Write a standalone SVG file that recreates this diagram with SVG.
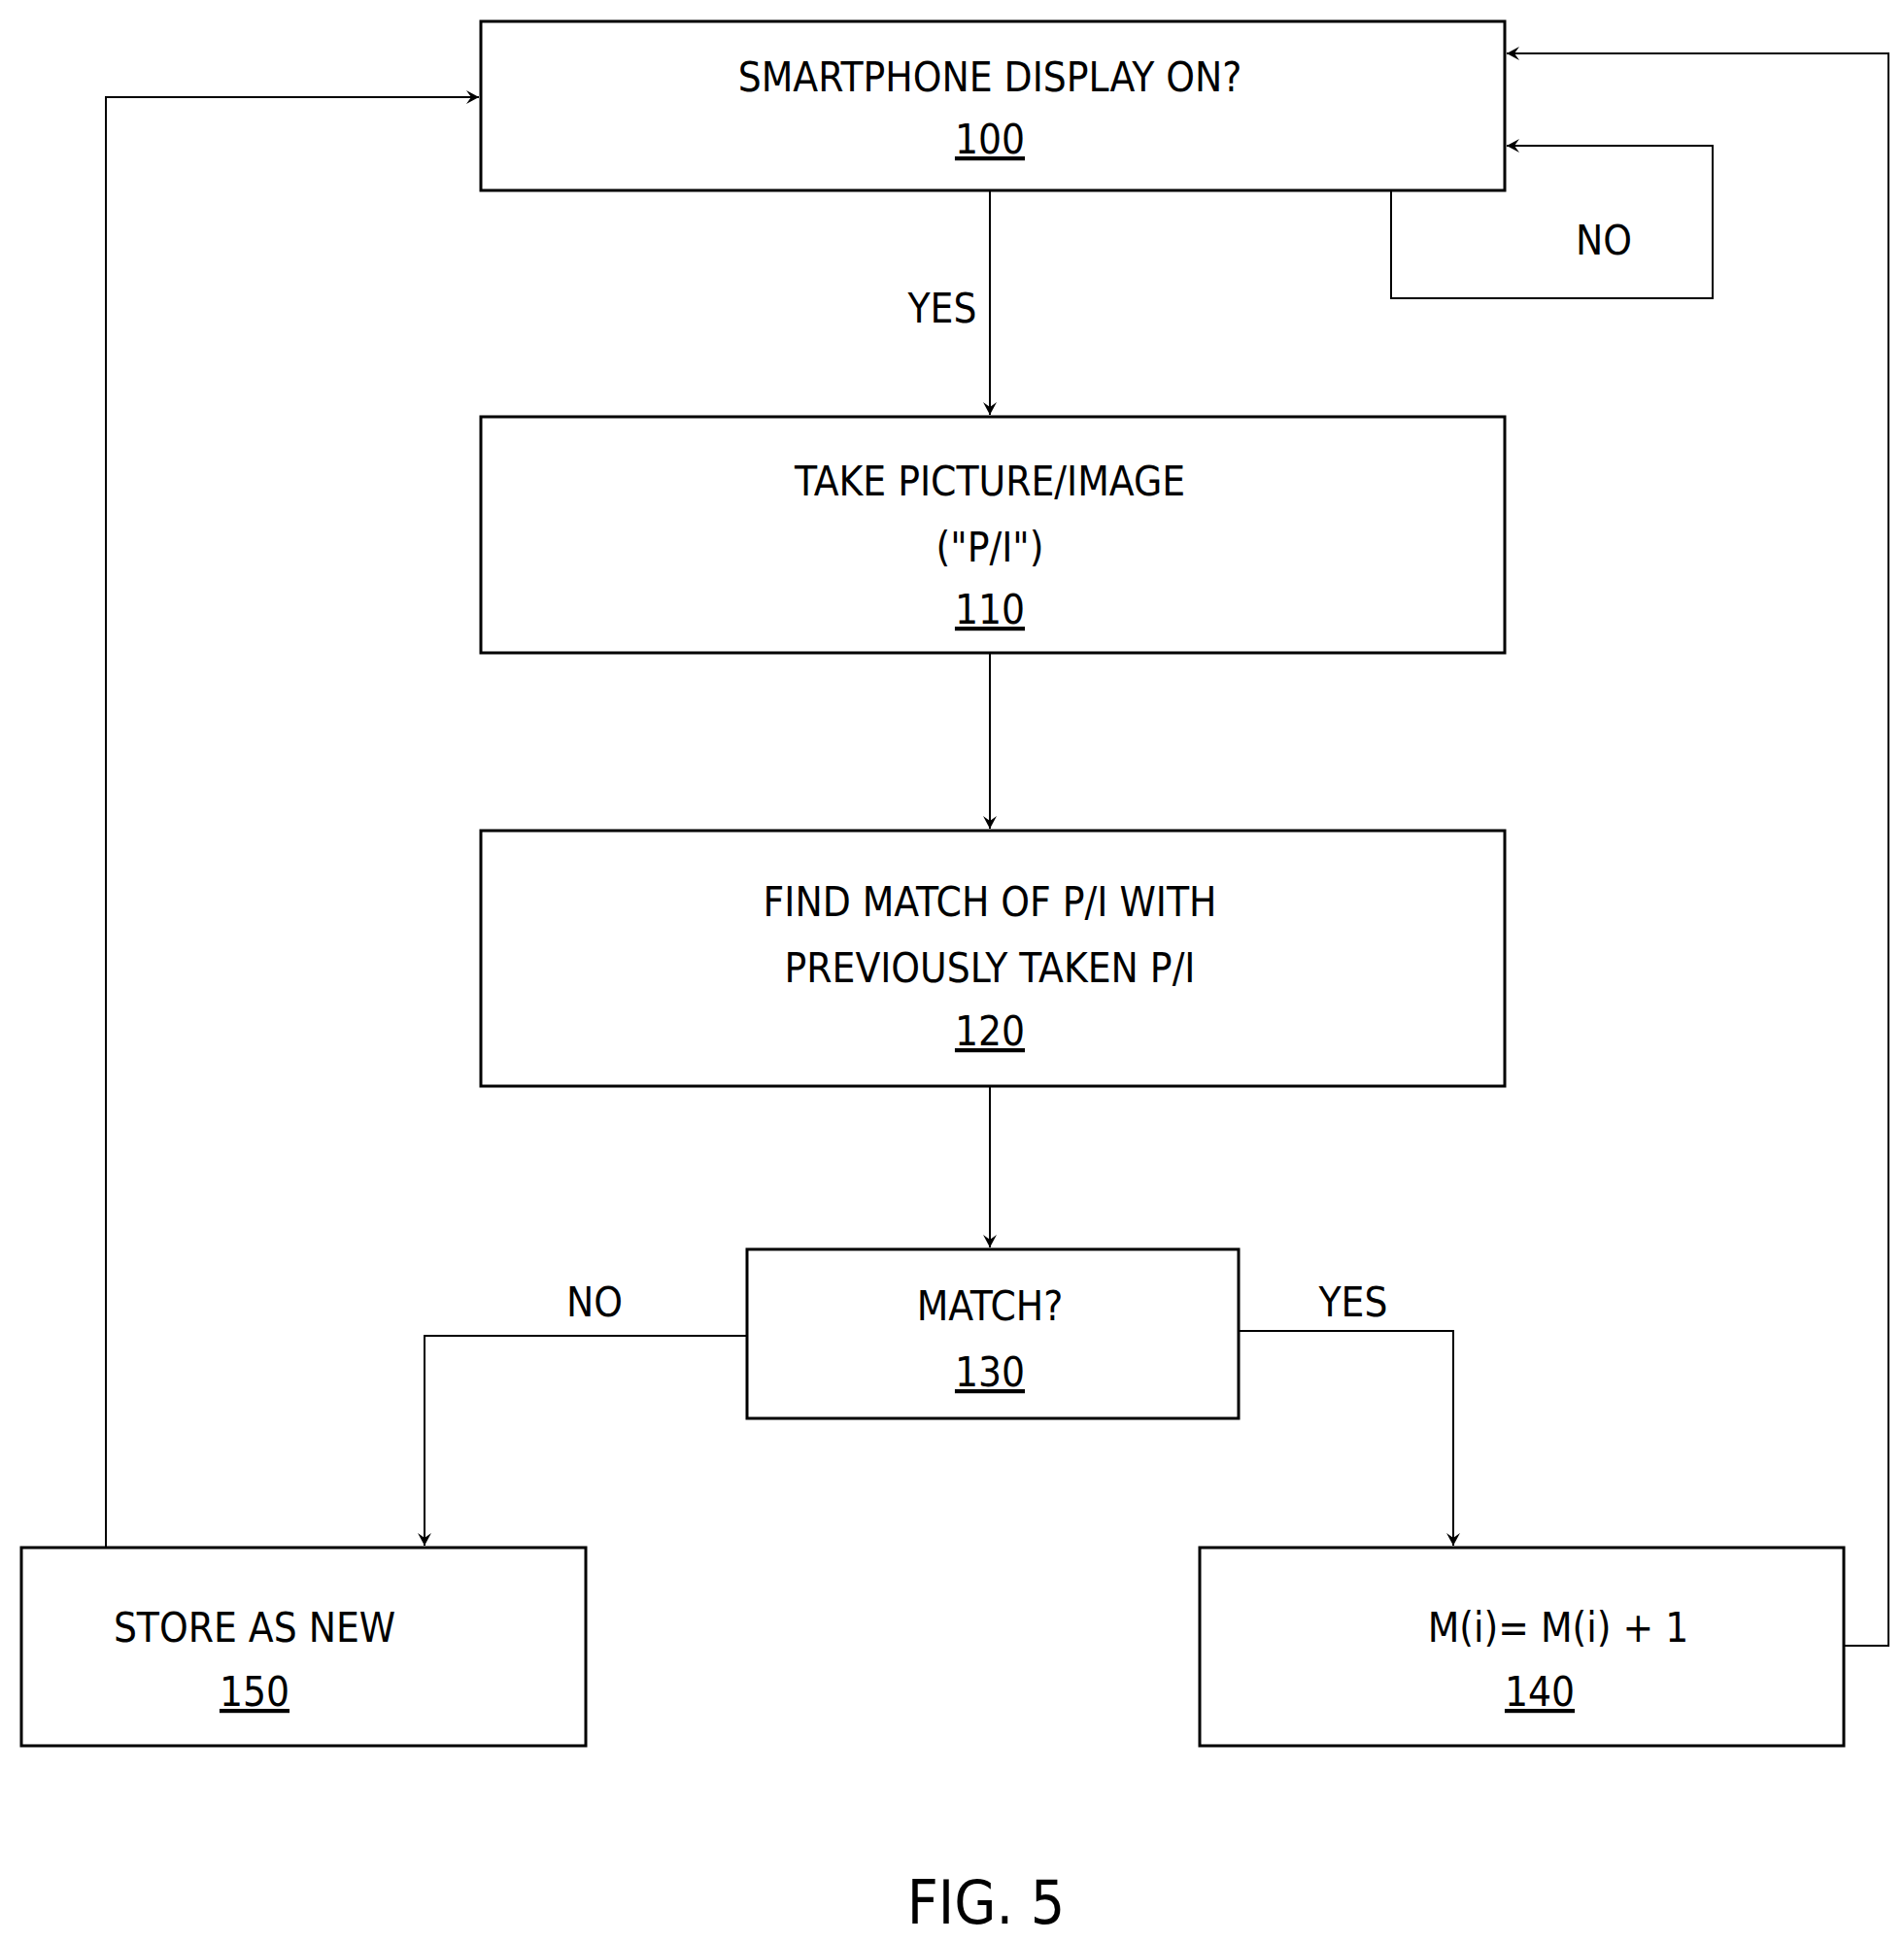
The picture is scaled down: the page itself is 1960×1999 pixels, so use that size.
<svg xmlns="http://www.w3.org/2000/svg" width="1960" height="1999" viewBox="0 0 1960 1999">
<style>
.b{fill:#fff;stroke:#000;stroke-width:3}
.c{fill:none;stroke:#000;stroke-width:2}
text{font-family:"DejaVu Sans Condensed","Liberation Sans",sans-serif;font-size:42px;text-anchor:middle;fill:#000}
.u{text-decoration:underline}
</style>
<defs><marker id="a" markerWidth="14" markerHeight="14" refX="13" refY="7" orient="auto" markerUnits="userSpaceOnUse"><path d="M0,0 L13,7 L0,14 L5,7 Z" fill="#000"/></marker></defs>
<rect width="1960" height="1999" fill="#fff"/>
<g id="connectors">
<path class="c" d="M1019,196 V427" marker-end="url(#a)"/>
<path class="c" d="M1432,196 V307 H1763 V150 H1551" marker-end="url(#a)"/>
<path class="c" d="M1019,672 V853" marker-end="url(#a)"/>
<path class="c" d="M1019,1118 V1284" marker-end="url(#a)"/>
<path class="c" d="M769,1375 H437 V1591" marker-end="url(#a)"/>
<path class="c" d="M1275,1370 H1496 V1591" marker-end="url(#a)"/>
<path class="c" d="M1898,1694 H1944 V55 H1551" marker-end="url(#a)"/>
<path class="c" d="M109,1593 V100 H493" marker-end="url(#a)"/>
<text x="970" y="332">YES</text>
<text x="1651" y="262">NO</text>
<text x="612" y="1355">NO</text>
<text x="1393" y="1355">YES</text>
</g>
<g id="n100"><rect class="b" x="495" y="22" width="1054" height="174"/><text x="1019" y="94">SMARTPHONE DISPLAY ON?</text><text class="u" x="1019" y="158">100</text></g>
<g id="n110"><rect class="b" x="495" y="429" width="1054" height="243"/><text x="1019" y="510">TAKE PICTURE/IMAGE</text><text x="1019" y="578">("P/I")</text><text class="u" x="1019" y="642">110</text></g>
<g id="n120"><rect class="b" x="495" y="855" width="1054" height="263"/><text x="1019" y="943">FIND MATCH OF P/I WITH</text><text x="1019" y="1011">PREVIOUSLY TAKEN P/I</text><text class="u" x="1019" y="1076">120</text></g>
<g id="n130"><rect class="b" x="769" y="1286" width="506" height="174"/><text x="1019" y="1359">MATCH?</text><text class="u" x="1019" y="1427">130</text></g>
<g id="n150"><rect class="b" x="22" y="1593" width="581" height="204"/><text x="262" y="1690">STORE AS NEW</text><text class="u" x="262" y="1756">150</text></g>
<g id="n140"><rect class="b" x="1235" y="1593" width="663" height="204"/><text x="1604" y="1690">M(i)= M(i) + 1</text><text class="u" x="1585" y="1756">140</text></g>
<text x="1015" y="1980" style="font-size:62px">FIG. 5</text>
</svg>
